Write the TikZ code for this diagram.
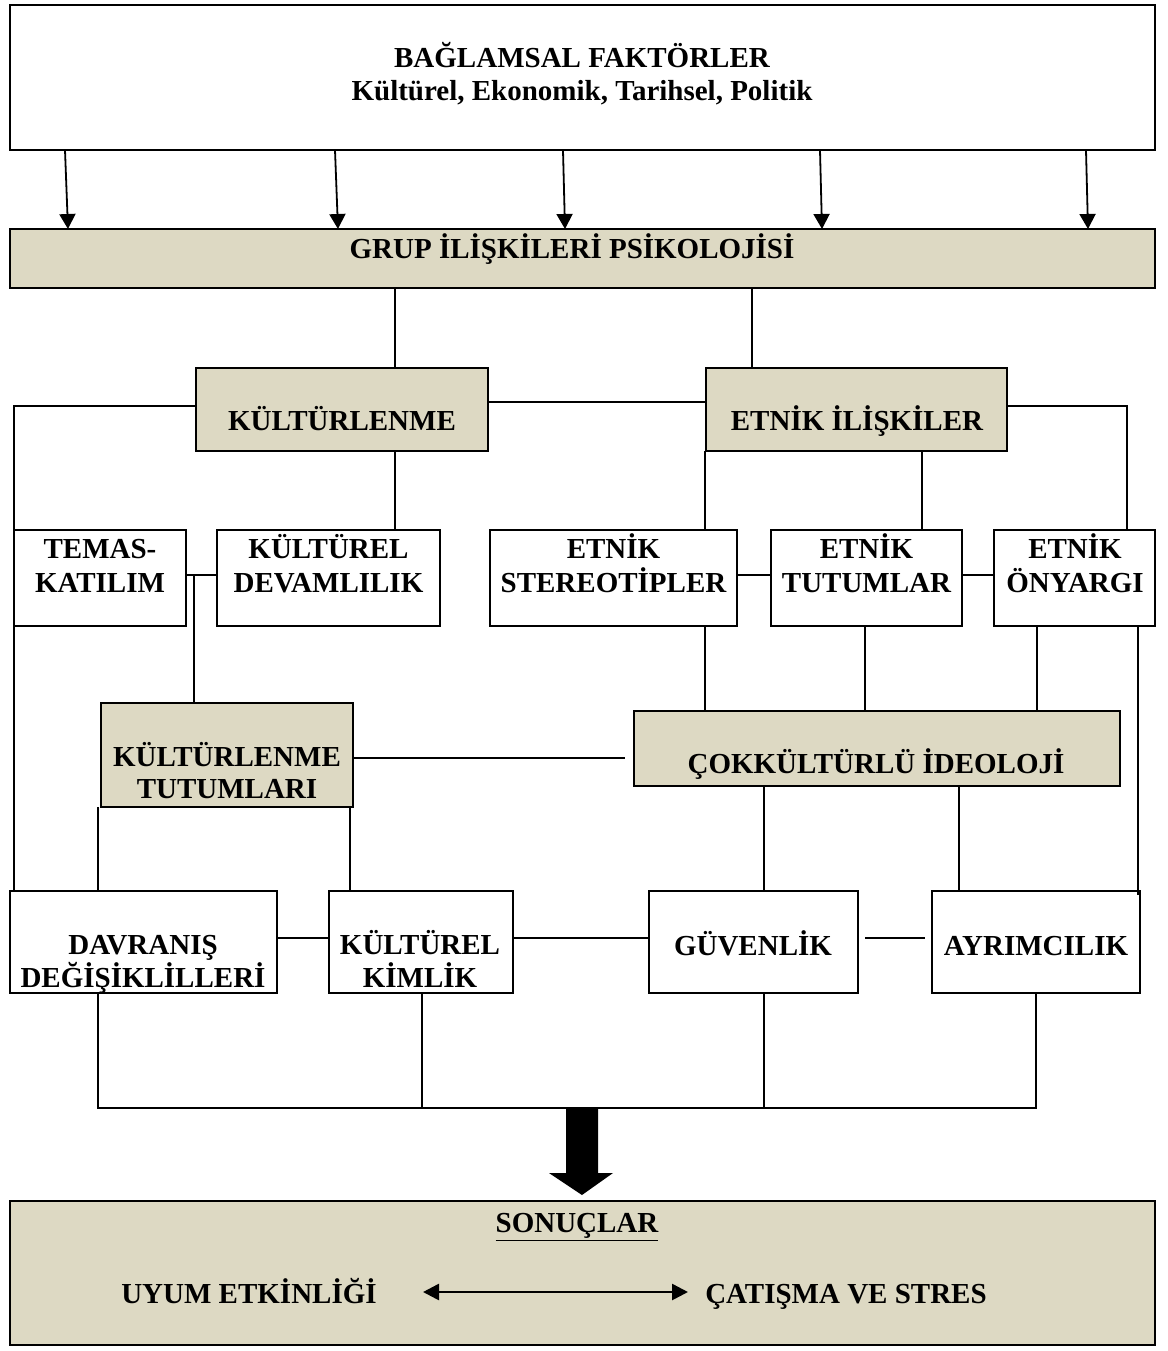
\documentclass[tikz,border=0pt]{standalone}
\usepackage{fontspec}
\setmainfont{Liberation Serif}
\usetikzlibrary{calc,arrows.meta}
\definecolor{beige}{HTML}{DDD9C3}
\newcommand{\mybox}[6]{\node[#1, minimum width={(#5-#3)*0.5pt}, minimum height={(#6-#4)*0.5pt}] (#2) at ({(#3+#5)/2},{(#4+#6)/2}) {};}
\begin{document}
\begin{tikzpicture}[x=0.5pt,y=-0.5pt,
  box/.style={draw,line width=1.3pt,inner sep=0pt,outer sep=0pt,fill=white},
  fillbox/.style={box,fill=beige},
  lbl/.style={font=\fontsize{14.5}{17}\selectfont\bfseries,anchor=base,inner sep=0pt},
  con/.style={line width=0.9pt},
  tarr/.style={line width=0.9pt,-{Triangle[length=7.5pt,width=8pt]}},
  ]
\fill[white] (0,0) rectangle (1168,1351);
\useasboundingbox (0,0) rectangle (1168,1351);

% boxes
\mybox{box}{top}{10}{5}{1155}{150}
\mybox{fillbox}{grup}{10}{229}{1155}{288}
\mybox{fillbox}{kul}{196}{368}{488}{451}
\mybox{fillbox}{etn}{706}{368}{1007}{451}
\mybox{box}{tem}{14}{530}{186}{626}
\mybox{box}{kd}{217}{530}{440}{626}
\mybox{box}{ste}{490}{530}{737}{626}
\mybox{box}{tut}{771}{530}{962}{626}
\mybox{box}{ony}{994}{530}{1155}{626}
\mybox{fillbox}{kt}{101}{703}{353}{807}
\mybox{fillbox}{cok}{634}{711}{1120}{786}
\mybox{box}{dav}{10}{891}{277}{993}
\mybox{box}{kk}{329}{891}{513}{993}
\mybox{box}{guv}{649}{891}{858}{993}
\mybox{box}{ayr}{932}{891}{1140}{993}
\mybox{fillbox}{son}{10}{1201}{1155}{1345}

% texts
\node[lbl] (t1) at (582,67) {BAĞLAMSAL FAKTÖRLER};
\node[lbl] (t2) at (582,100) {Kültürel, Ekonomik, Tarihsel, Politik};
\node[lbl] (tg) at (572,258) {GRUP İLİŞKİLERİ PSİKOLOJİSİ};
\node[lbl] (tk) at (342,430) {KÜLTÜRLENME};
\node[lbl] (te) at (857,430) {ETNİK İLİŞKİLER};
\node[lbl] (tt1) at (100,558) {TEMAS-};
\node[lbl] (tt2) at (100,592) {KATILIM};
\node[lbl] (tkd1) at (328.5,558) {KÜLTÜREL};
\node[lbl] (tkd2) at (328.5,592) {DEVAMLILIK};
\node[lbl] (ts1) at (613.5,558) {ETNİK};
\node[lbl] (ts2) at (613.5,592) {STEREOTİPLER};
\node[lbl] (tu1) at (866.5,558) {ETNİK};
\node[lbl] (tu2) at (866.5,592) {TUTUMLAR};
\node[lbl] (to1) at (1075,558) {ETNİK};
\node[lbl] (to2) at (1075,592) {ÖNYARGI};
\node[lbl] (tkt1) at (227,766) {KÜLTÜRLENME};
\node[lbl] (tkt2) at (227,798) {TUTUMLARI};
\node[lbl] (tc) at (876,773) {ÇOKKÜLTÜRLÜ İDEOLOJİ};
\node[lbl] (td1) at (143,954) {DAVRANIŞ};
\node[lbl] (td2) at (143,987) {DEĞİŞİKLİLLERİ};
\node[lbl] (tkk1) at (420,954) {KÜLTÜREL};
\node[lbl] (tkk2) at (420,987) {KİMLİK};
\node[lbl] (tgv) at (753,955) {GÜVENLİK};
\node[lbl] (tay) at (1036,955) {AYRIMCILIK};
\node[lbl] (tson) at (577,1232) {\underline{SONUÇLAR}};
\node[lbl] (tuy) at (249,1303) {UYUM ETKİNLİĞİ};
\node[lbl] (tca) at (846,1303) {ÇATIŞMA VE STRES};

% column / row helper coordinates
\foreach \c in {14,98,194,350,395,422,705,752,764,865,922,959,1036,1037,1127,1138}{\coordinate (c\c) at (\c,0);}
\foreach \r in {402,406,575,758,938,1108}{\coordinate (r\r) at (0,\r);}

% top arrows
\draw[tarr] ($(top.south west)+(55,0)$) -- ($(grup.north west)+(58,0)$);
\draw[tarr] ($(top.south west)+(325,0)$) -- ($(grup.north west)+(328,0)$);
\draw[tarr] ($(top.south west)+(553,0)$) -- ($(grup.north west)+(555,0)$);
\draw[tarr] ($(top.south west)+(810,0)$) -- ($(grup.north west)+(812,0)$);
\draw[tarr] ($(top.south west)+(1076,0)$) -- ($(grup.north west)+(1078,0)$);

% connectors
\draw[con] (grup.south -| c395) -- (kul.north -| c395);
\draw[con] (grup.south -| c752) -- (etn.north -| c752);
\draw[con] (kul.west |- r406) -- (c14 |- r406) -- (dav.north -| c14);
\draw[con] (kul.east |- r402) -- (etn.west |- r402);
\draw[con] (kul.south -| c395) -- (kd.north -| c395);
\draw[con] (tem.east |- r575) -- (kd.west |- r575);
\draw[con] (c194 |- r575) -- (kt.north -| c194);
\draw[con,shorten >=4.5pt] (kt.east |- r758) -- (cok.west |- r758);
\draw[con] (kt.south -| c98) -- (dav.north -| c98);
\draw[con] (kt.south -| c350) -- (kk.north -| c350);
\draw[con] (dav.east |- r938) -- (kk.west |- r938);
\draw[con] (kk.east |- r938) -- (guv.west |- r938);
\draw[con,shorten <=3.5pt,shorten >=3.5pt] (guv.east |- r938) -- (ayr.west |- r938);
\draw[con] (etn.south -| c705) -- (ste.north -| c705);
\draw[con] (etn.south -| c922) -- (tut.north -| c922);
\draw[con] (etn.east |- r406) -- (c1127 |- r406) -- (ony.north -| c1127);
\draw[con] (ste.east |- r575) -- (tut.west |- r575);
\draw[con] (tut.east |- r575) -- (ony.west |- r575);
\draw[con] (ste.south -| c705) -- (cok.north -| c705);
\draw[con] (tut.south -| c865) -- (cok.north -| c865);
\draw[con] (ony.south -| c1037) -- (cok.north -| c1037);
\draw[con] (ony.south -| c1138) -- ($(ayr.north -| c1138)+(0,4)$);
\draw[con] (cok.south -| c764) -- (guv.north -| c764);
\draw[con] (cok.south -| c959) -- (ayr.north -| c959);
\draw[con] (dav.south -| c98) -- (c98 |- r1108) -- (c1036 |- r1108) -- (ayr.south -| c1036);
\draw[con] (kk.south -| c422) -- (c422 |- r1108);
\draw[con] (guv.south -| c764) -- (c764 |- r1108);

% big arrow
\coordinate (bigA) at (582,1108);
\fill ($(bigA)+(-16,0)$) -- ++(32,0) -- ++(0,65) -- ++(15,0) -- ($(bigA)+(0,87)$) -- ++(-33,-22) -- ++(17,0) -- cycle;

% double arrow
\coordinate (dA) at (423,1292);
\coordinate (dB) at (688,1292);
\draw[line width=1.3pt,{Triangle[length=8pt,width=8pt]}-{Triangle[length=8pt,width=8pt]}] (dA) -- (dB);
\end{tikzpicture}
\end{document}
